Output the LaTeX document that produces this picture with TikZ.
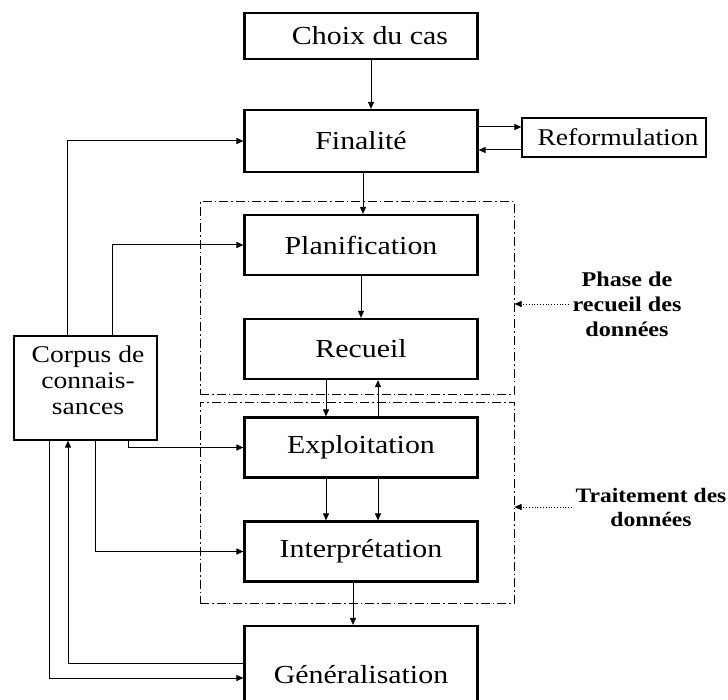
\documentclass[tikz,border=0pt]{standalone}
\usepackage{fontspec}
\setmainfont{Liberation Serif}[FakeStretch=1.15]
\usetikzlibrary{arrows.meta}

\begin{document}
\begin{tikzpicture}[x=1pt,y=-1pt,line width=1pt,>={Triangle[length=7pt,width=6pt]},
    etape/.style={draw,line width=2.2pt,minimum width=233pt,minimum height=60pt,inner sep=0pt,font=\fontsize{26}{27}\selectfont},
    cadre/.style={draw,line width=1.2pt,inner sep=0pt,font=\fontsize{24}{26}\selectfont},
    phase/.style={draw,dash pattern=on 9pt off 3pt on 1.5pt off 3pt,minimum width=314pt,inner sep=0pt},
    note/.style={align=center,font=\bfseries\fontsize{21}{25}\selectfont}]
    \useasboundingbox (0,0) rectangle (728,700);
    \clip (0,0) rectangle (728,700);

    \node[etape,minimum height=46pt] (choix) at (361,36) {\hspace{18pt}Choix du cas};
    \node[etape,minimum height=62pt] (finalite) at (361,141) {Finalité};
    \node[etape] (planif) at (361,245) {Planification};
    \node[etape] (recueil) at (361,349) {Recueil};
    \node[etape] (exploit) at (361,447.5) {Exploitation};
    \node[etape] (interp) at (361,551.5) {Interprétation};
    \node[etape,minimum height=98pt] (general) at (361,675) {Généralisation};
    \node[cadre,minimum width=184pt,minimum height=39pt] (reform) at (614,137.5) {\hspace{8pt}Reformulation};
    \node[cadre,minimum width=143pt,minimum height=104pt] (corpus) at (85.5,388) {};
    \node[align=center,font=\fontsize{24}{26}\selectfont] (corpuslbl) at (88,380) {Corpus de\\connais-\\sances};

    \node[phase,minimum height=192pt] (phase1) at (357,298) {};
    \node[phase,minimum height=201pt] (phase2) at (357,502.5) {};
    \node[note] (notea) at (627,304) {Phase de\\recueil des\\données};
    \node[note,font=\bfseries\fontsize{20.5}{24}\selectfont] (noteb) at (651,507) {Traitement des\\données};

    \draw[->] ([xshift=10pt]choix.south) -- ([xshift=10pt]finalite.north);
    \draw[->] ([xshift=2pt]finalite.south) -- ([xshift=2pt]planif.north);
    \draw[->] ([yshift=14pt]finalite.east) -- ([yshift=14pt]finalite.east -| reform.west);
    \draw[<-] ([yshift=-9pt]finalite.east) -- ([yshift=-9pt]finalite.east -| reform.west);
    \draw[->] (planif) -- (recueil);
    \draw[->] ([xshift=-35pt]recueil.south) -- ([xshift=-35pt]exploit.north);
    \draw[<-] ([xshift=17pt]recueil.south) -- ([xshift=17pt]exploit.north);
    \draw[->] ([xshift=-35pt]exploit.south) -- ([xshift=-35pt]interp.north);
    \draw[->] ([xshift=17pt]exploit.south) -- ([xshift=17pt]interp.north);
    \draw[->] ([xshift=-8pt]interp.south) -- ([xshift=-8pt]general.north);
    \draw[->] ([xshift=-18.5pt]corpus.north) |- (finalite.west);
    \draw[->] ([xshift=26.5pt]corpus.north) |- (planif.west);
    \draw[->] ([xshift=42.5pt]corpus.south) |- (exploit.west);
    \draw[->] ([xshift=9.5pt]corpus.south) |- (interp.west);
    \draw[->] ([xshift=-36.5pt]corpus.south) |- ([yshift=-3pt]general.west);
    \draw[->] ([yshift=12pt]general.west) -| ([xshift=-17.5pt]corpus.south);
    \draw[->,dotted,line width=.8pt] (notea.west) -- (notea.west -| phase1.east);
    \draw[->,dotted,line width=.8pt] (noteb.west) -- (noteb.west -| phase2.east);
\end{tikzpicture}
\end{document}
